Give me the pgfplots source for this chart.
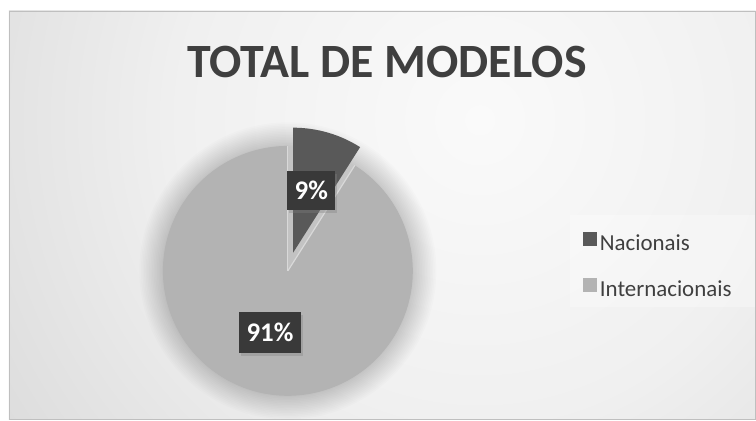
\documentclass[border=0pt]{standalone}
\usepackage{pgfplots}
\pgfplotsset{compat=1.18}
\usepackage{pgfplotstable}
\usetikzlibrary{calc,shadows}
\usepackage{fontspec}
\setmainfont{Carlito}
\definecolor{darkslice}{HTML}{595959}
\definecolor{lightslice}{HTML}{B3B3B3}
\definecolor{boxc}{HTML}{393939}
\definecolor{titlec}{HTML}{3F3F3F}
\definecolor{bga}{HTML}{FAFAFA}
\definecolor{bgb}{HTML}{F0F0F0}
\definecolor{bgc}{HTML}{DADADA}
\definecolor{bgd}{HTML}{C6C6C6}
\definecolor{bge}{HTML}{BEBEBE}
\pgfdeclareradialshading{bgshade}{\pgfpoint{0bp}{0bp}}{color(0bp)=(bga); color(12.5bp)=(bgb); color(25bp)=(bgc); color(40bp)=(bgd); color(50bp)=(bge)}

\pgfplotstableread{
label value
Nacionais 9
Internacionais 91
}\piedata

\begin{document}
\begin{tikzpicture}
\pgfplotstablegetelem{0}{value}\of\piedata \let\va\pgfplotsretval
\pgfplotstablegetelem{1}{value}\of\piedata \let\vb\pgfplotsretval
\pgfmathsetmacro\aA{90-3.6*\va}
\pgfmathsetmacro\mA{90-1.8*\va}
\pgfmathsetmacro\aB{\aA-3.6*\vb}
\pgfmathsetmacro\mB{\aA-1.8*\vb}
\begin{axis}[
  width=756bp, height=420bp, scale only axis,
  xmin=0, xmax=756, ymin=0, ymax=420,
  hide axis, clip=false,
  title={TOTAL DE MODELOS},
  title style={at={(0.512,0.838)}, anchor=center, inner sep=0pt,
    font=\fontsize{48}{52}\selectfont\bfseries, text=titlec},
  legend style={at={(0.7712,0.447)}, anchor=north west, draw=none, fill=none,
    inner sep=0pt, column sep=3bp, row sep=24bp,
    font=\fontsize{23}{27}\selectfont, text=titlec,
    nodes={inner sep=0pt, text height=14bp, text depth=4bp}},
  legend cell align=left,
  legend image code/.code={\fill[#1,draw=none] (0bp,-1bp) rectangle (14bp,13bp);},
]
% background
\fill[white] (axis cs:0,0) rectangle (axis cs:756,420);
\begin{scope}
\clip (axis cs:9,0) rectangle (axis cs:756,409);
\shade[shading=bgshade] (axis cs:480,300) circle (600bp);
\end{scope}
\draw[color=black!25, line width=0.8bp] (axis cs:9,0) rectangle (axis cs:756,409);
% legend background
\fill[white, opacity=0.3] (axis cs:570,113) rectangle (axis cs:755,205);
% pie
\coordinate (C) at (axis cs:288,149);
\coordinate (CA) at ($(C)+(\mA:19bp)$);
\pgfplotsinvokeforeach{1,2,3,4,5,6,7,8,9,10,11,12,13,14,15,16}{
  \fill[black, opacity=0.012] (C) circle[radius={123bp+#1*1.6bp}];
}
\fill[lightslice]
  (C) -- ++(\aA:125bp) arc[start angle=\aA, end angle=\aB, radius=125bp] -- cycle;
\draw[white!85!black, line width=1.2bp] (C) -- ++(\aA:125bp);
\draw[white!85!black, line width=1.2bp] (C) -- ++(90:125bp);
\fill[darkslice]
  (CA) -- ++(90:125bp) arc[start angle=90, end angle=\aA, radius=125bp] -- cycle;
% data labels
\node[fill=boxc, text=white, font=\fontsize{27}{30}\selectfont\bfseries,
  minimum height=39bp, inner xsep=7.5bp,
  drop shadow={shadow xshift=2bp, shadow yshift=-3bp, opacity=0.35}]
  at ($(CA)+(\mA:65bp)$) {\va\%};
\node[fill=boxc, text=white, font=\fontsize{27}{30}\selectfont\bfseries,
  minimum height=41bp, inner xsep=7.5bp,
  drop shadow={shadow xshift=2bp, shadow yshift=-3bp, opacity=0.35}]
  at ($(C)+(\mB:64bp)$) {\vb\%};
\addlegendimage{fill=darkslice}
\addlegendentry{Nacionais}
\addlegendimage{fill=lightslice}
\addlegendentry{Internacionais}
\end{axis}
\end{tikzpicture}
\end{document}
